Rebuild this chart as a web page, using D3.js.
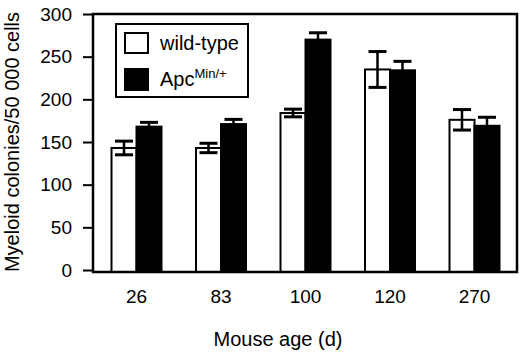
<!DOCTYPE html>
<html>
<head>
<meta charset="utf-8">
<script src="https://cdn.jsdelivr.net/npm/d3@7"></script>
<style>
  body { margin: 0; background: #fff; }
  svg { display: block; font-family: "Liberation Sans", Arial, Helvetica, sans-serif; }
</style>
</head>
<body>
<svg id="chart" width="520" height="352"></svg>
<script>
// data
const ages = ['26', '83', '100', '120', '270'];
const series = ['wild-type', 'Apc'];
const wildType = [143, 143, 184, 235, 176];
const wildTypeErr = [8, 5.5, 4.5, 21, 12];
const apcMin = [168, 171, 270, 234, 169];
const apcMinErr = [5, 5.5, 8, 10.5, 10];
const yTicks = [0, 50, 100, 150, 200, 250, 300];

const svg = d3.select('#chart');

const x = d3.scaleBand().domain(ages).range([94.25, 516.75]);
const xs = d3.scaleBand().domain(series)
  .range([x.bandwidth() / 2 - 25, x.bandwidth() / 2 + 25]);
const y = d3.scaleLinear().domain([0, 300]).range([270, 14]);

const left = 93, right = 517, bottom = y(0) + 2;

// one row per bar
const rows = [];
ages.forEach((a, i) => {
  rows.push({ age: a, s: 'wild-type', v: wildType[i], e: wildTypeErr[i] });
  rows.push({ age: a, s: 'Apc', v: apcMin[i], e: apcMinErr[i] });
});

svg.append('g').selectAll('rect')
  .data(rows)
  .enter().append('rect')
  .attr('x', d => x(d.age) + xs(d.s))
  .attr('width', xs.bandwidth())
  .attr('y', d => y(d.v))
  .attr('height', d => bottom - y(d.v))
  .attr('fill', d => d.s === 'Apc' ? '#000' : '#fff')
  .attr('stroke', '#000')
  .attr('stroke-width', 2);

// error bars
const eg = svg.append('g').attr('stroke', '#000');
rows.forEach(d => {
  const cx = x(d.age) + xs(d.s) + xs.bandwidth() / 2;
  eg.append('line')
    .attr('x1', cx).attr('x2', cx)
    .attr('y1', y(d.v + d.e)).attr('y2', y(d.v - d.e))
    .attr('stroke-width', 2.5);
  [d.v + d.e, d.v - d.e].forEach(t => {
    eg.append('line')
      .attr('x1', cx - 9).attr('x2', cx + 9)
      .attr('y1', y(t)).attr('y2', y(t))
      .attr('stroke-width', 3);
  });
});

// frame
svg.append('path')
  .attr('d', `M${left},${bottom}H${right}V${y(300)}H${left}Z`)
  .attr('fill', 'none')
  .attr('stroke', '#000')
  .attr('stroke-width', 2.5);

// y axis
const yAxis = svg.append('g')
  .attr('transform', `translate(${left},0)`)
  .call(d3.axisLeft(y).tickValues(yTicks).tickSize(10).tickPadding(11));
yAxis.select('.domain').remove();
yAxis.selectAll('line').attr('stroke-width', 2);
yAxis.selectAll('text').attr('font-size', 19).attr('fill', '#000')
  .attr('font-family', null);

// x axis labels
const xAxis = svg.append('g')
  .attr('transform', `translate(0,${y(0)})`)
  .call(d3.axisBottom(x).tickSize(0).tickPadding(20));
xAxis.select('.domain').remove();
xAxis.selectAll('text').attr('font-size', 19).attr('fill', '#000')
  .attr('font-family', null);

// axis titles
svg.append('text')
  .attr('x', 278).attr('y', 346)
  .attr('text-anchor', 'middle')
  .attr('font-size', 20)
  .text('Mouse age (d)');

svg.append('text')
  .attr('transform', 'translate(19,142) rotate(-90)')
  .attr('text-anchor', 'middle')
  .attr('font-size', 20)
  .text('Myeloid colonies/50 000 cells');

// legend
const lg = svg.append('g');
lg.append('rect')
  .attr('x', 116).attr('y', 24).attr('width', 132).attr('height', 73)
  .attr('fill', '#fff').attr('stroke', '#000').attr('stroke-width', 2);
lg.append('rect')
  .attr('x', 125).attr('y', 33).attr('width', 23).attr('height', 20)
  .attr('fill', '#fff').attr('stroke', '#000').attr('stroke-width', 2);
lg.append('rect')
  .attr('x', 124).attr('y', 68).attr('width', 25).attr('height', 23)
  .attr('fill', '#000');
lg.append('text')
  .attr('x', 160).attr('y', 50)
  .attr('font-size', 20)
  .text(series[0]);
const apcLabel = lg.append('text')
  .attr('x', 160).attr('y', 86)
  .attr('font-size', 20);
apcLabel.append('tspan').text('Apc');
apcLabel.append('tspan').attr('dy', -8).attr('font-size', 13).text('Min/+');
</script>
</body>
</html>
